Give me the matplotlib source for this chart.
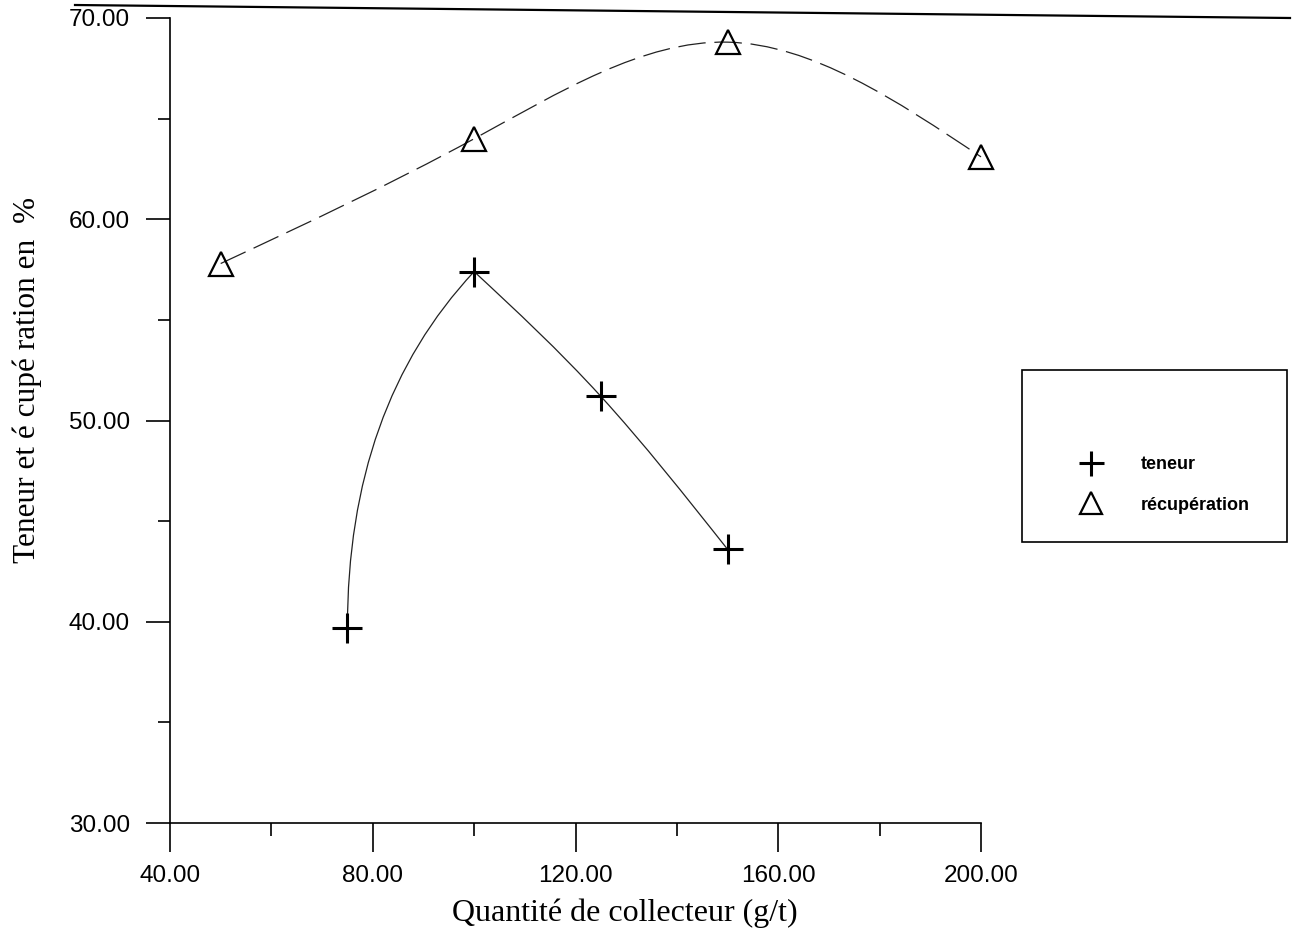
import matplotlib
matplotlib.use('Agg')
import matplotlib.pyplot as plt
import numpy as np
from matplotlib.path import Path
from matplotlib.patches import PathPatch, Rectangle
from matplotlib.lines import Line2D

# données
teneur_x = np.array([75.0, 100.0, 125.0, 150.0])
teneur_y = np.array([39.7, 57.4, 51.2, 43.6])
recup_x = np.array([50.0, 100.0, 150.0, 200.0])
recup_y = np.array([57.8, 64.0, 68.8, 63.1])

xticks = [40, 80, 120, 160, 200]
yticks = [30, 40, 50, 60, 70]


def pentes_spline(x, y):
    # spline cubique naturelle -> pentes aux noeuds
    n = len(x)
    h = np.diff(x)
    d = np.diff(y) / h
    A = np.zeros((n, n))
    b = np.zeros(n)
    A[0, 0] = 1
    A[-1, -1] = 1
    for i in range(1, n - 1):
        A[i, i - 1] = h[i - 1]
        A[i, i] = 2 * (h[i - 1] + h[i])
        A[i, i + 1] = h[i]
        b[i] = 6 * (d[i] - d[i - 1])
    M = np.linalg.solve(A, b)
    s = np.zeros(n)
    for i in range(n - 1):
        s[i] = d[i] - h[i] * (2 * M[i] + M[i + 1]) / 6
    s[-1] = d[-1] + h[-1] * (M[-2] + 2 * M[-1]) / 6
    return s


def segments_bezier(x, y):
    s = pentes_spline(x, y)
    verts = [(x[0], y[0])]
    codes = [Path.MOVETO]
    for i in range(len(x) - 1):
        h = x[i + 1] - x[i]
        verts += [(x[i] + h / 3, y[i] + s[i] * h / 3),
                  (x[i + 1] - h / 3, y[i + 1] - s[i + 1] * h / 3),
                  (x[i + 1], y[i + 1])]
        codes += [Path.CURVE4] * 3
    return verts, codes


fig = plt.figure(figsize=(12.95, 9.44), dpi=100)
ax = fig.add_axes([170 / 1295, 1 - 823 / 944, (981 - 170) / 1295, (823 - 18) / 944])
ax.set_xlim(40, 200)
ax.set_ylim(30, 70)

# courbe récupération
v, c = segments_bezier(recup_x, recup_y)
ax.add_patch(PathPatch(Path(v, c), fill=False, edgecolor='#222222', lw=0.9,
                       linestyle=(0, (22, 7)), clip_on=False))

# courbe teneur : montée puis spline sur la partie descendante
v = [(teneur_x[0], teneur_y[0]),
     (teneur_x[0], teneur_y[0] + 0.62 * (teneur_y[1] - teneur_y[0])),
     (teneur_x[1], teneur_y[1])]
c = [Path.MOVETO, Path.CURVE3, Path.CURVE3]
v2, c2 = segments_bezier(teneur_x[1:], teneur_y[1:])
v += v2[1:]
c += c2[1:]
ax.add_patch(PathPatch(Path(v, c), fill=False, edgecolor='#222222', lw=0.9,
                       clip_on=False))

ax.plot(teneur_x, teneur_y, linestyle='none', marker='+', markersize=22,
        mew=2.2, color='black', clip_on=False)
ax.plot(recup_x, recup_y, linestyle='none', marker='^', markersize=17,
        mew=1.6, markerfacecolor='none', markeredgecolor='black', clip_on=False)

for side in ['top', 'right']:
    ax.spines[side].set_visible(False)
for side in ['left', 'bottom']:
    ax.spines[side].set_linewidth(1.2)

ax.set_xticks(xticks)
ax.set_xticklabels(['%.2f' % t for t in xticks])
ax.set_yticks(yticks)
ax.set_yticklabels(['%.2f' % t for t in yticks])
ax.set_xticks([60, 100, 140, 180], minor=True)
ax.set_yticks([35, 45, 55, 65], minor=True)
ax.tick_params(axis='x', which='major', direction='out', length=21, width=1.2, pad=9)
ax.tick_params(axis='y', which='major', direction='out', length=17, width=1.2, pad=12)
ax.tick_params(which='minor', direction='out', length=9, width=1.2)
for lab in ax.get_xticklabels() + ax.get_yticklabels():
    lab.set_family('Liberation Sans')
    lab.set_fontsize(17.5)

fig.text(625 / 1295, 1 - 913 / 944, 'Quantité de collecteur (g/t)',
         family='Liberation Serif', fontsize=23, ha='center', va='center')
fig.text(27 / 1295, 1 - 380 / 944, 'Teneur et é cupé ration en  %',
         family='Liberation Serif', fontsize=22.5, ha='center', va='center', rotation=90)

# trait horizontal en haut de la page
fig.add_artist(Line2D([75 / 1295, 1290 / 1295], [1 - 5 / 944, 1 - 18 / 944],
                      color='black', lw=1.6))

# cadre de la légende
fig.add_artist(Rectangle((1022 / 1295, 1 - 542 / 944), 265 / 1295, 172 / 944,
                         transform=fig.transFigure, fill=False,
                         edgecolor='black', lw=1.2))
h1 = Line2D([], [], linestyle='none', marker='+', markersize=18, mew=2.2, color='black')
h2 = Line2D([], [], linestyle='none', marker='^', markersize=16, mew=1.6,
            markerfacecolor='none', markeredgecolor='black')
fig.legend([h1, h2], ['teneur', 'récupération'], loc='upper left',
           bbox_to_anchor=(1052 / 1295, 1 - 440 / 944), frameon=False,
           prop={'family': 'Liberation Sans', 'weight': 'bold', 'size': 13},
           handlelength=2.5, handletextpad=1.5, labelspacing=1.3)

fig.savefig('out.png', dpi=100)
